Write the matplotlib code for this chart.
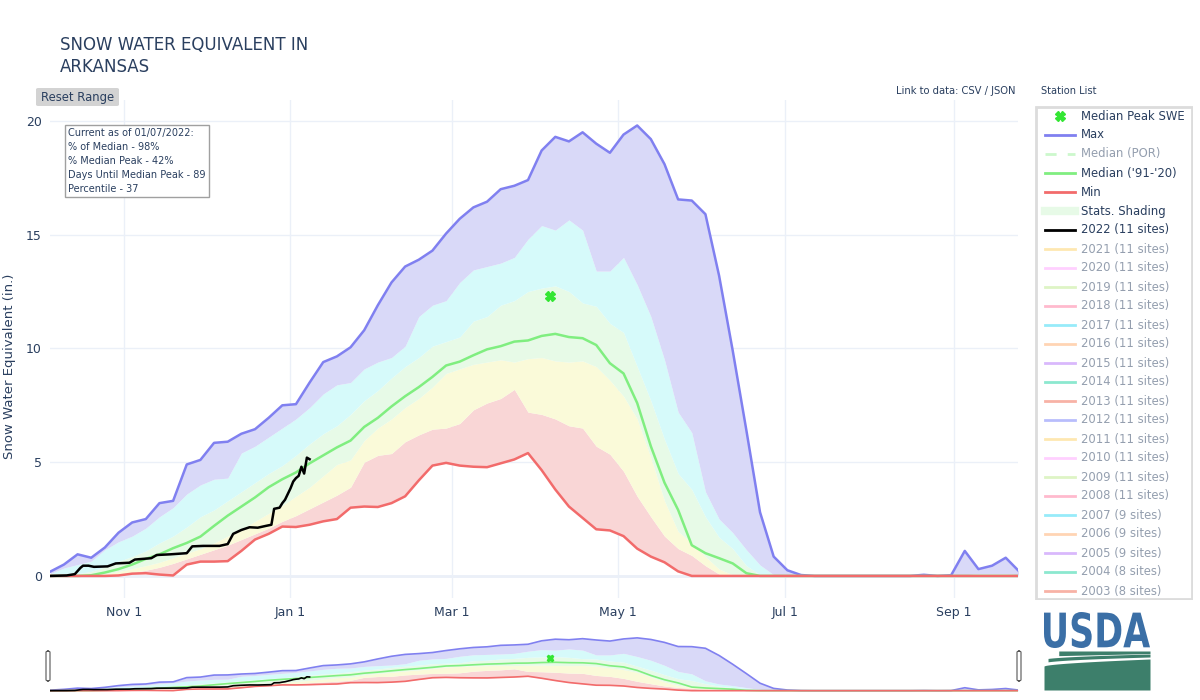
import numpy as np
import matplotlib
matplotlib.use("Agg")
import matplotlib.pyplot as plt
from matplotlib.patches import Rectangle, FancyBboxPatch, PathPatch
from matplotlib.textpath import TextPath
from matplotlib.font_manager import FontProperties
from matplotlib.transforms import Affine2D

plt.rcParams['font.family'] = ['DejaVu Sans']

# day of water year (0 = Oct 1), sampled every 5 days
days = list(range(4, 360, 5))

max_swe = [0.19, 0.5, 0.95, 0.8, 1.25, 1.9, 2.35, 2.5, 3.2, 3.3,
           4.9, 5.1, 5.85, 5.9, 6.25, 6.45, 6.95, 7.5, 7.55, 8.5,
           9.4, 9.65, 10.05, 10.8, 11.9, 12.9, 13.6, 13.9, 14.3, 15.05,
           15.7, 16.2, 16.45, 17.0, 17.15, 17.4, 18.7, 19.3, 19.1, 19.5,
           19.0, 18.6, 19.4, 19.8, 19.2, 18.1, 16.55, 16.5, 15.9, 13.2,
           9.9, 6.4, 2.8, 0.85, 0.25, 0.04, 0, 0, 0, 0,
           0, 0, 0, 0, 0.05, 0, 0.03, 1.1, 0.3, 0.45,
           0.8, 0.19]
p90 = [0.1, 0.35, 0.5, 0.65, 1.15, 1.5, 1.75, 2.1, 2.6, 3.0,
       3.6, 4.0, 4.25, 4.3, 5.4, 5.7, 6.1, 6.5, 6.9, 7.4,
       8.0, 8.4, 8.5, 9.1, 9.4, 9.6, 10.1, 11.4, 11.9, 12.1,
       12.9, 13.45, 13.6, 13.75, 14.0, 14.8, 15.4, 15.2, 15.65, 15.2,
       13.4, 13.4, 14.0, 12.8, 11.4, 9.5, 7.2, 6.3, 3.7, 2.5,
       1.9, 1.15, 0.48, 0.05, 0, 0, 0, 0, 0, 0,
       0, 0, 0, 0, 0, 0, 0, 0.05, 0.1, 0.1,
       0.1, 0.05]
p70 = [0.02, 0.05, 0.1, 0.2, 0.4, 0.65, 0.85, 1.1, 1.45, 1.75,
       2.15, 2.6, 2.9, 3.3, 3.7, 4.1, 4.5, 4.85, 5.3, 5.8,
       6.25, 6.6, 7.1, 7.7, 8.15, 8.7, 9.2, 9.6, 10.1, 10.3,
       10.5, 11.2, 11.4, 11.9, 12.1, 12.5, 12.65, 12.75, 12.5, 12.0,
       11.85, 11.1, 10.7, 9.2, 7.7, 6.0, 4.5, 3.8, 2.6, 1.7,
       1.2, 0.45, 0.05, 0, 0, 0, 0, 0, 0, 0,
       0, 0, 0, 0, 0, 0, 0, 0, 0, 0,
       0, 0]
p50 = [0, 0, 0, 0.02, 0.08, 0.2, 0.32, 0.45, 0.6, 0.8,
       1.0, 1.2, 1.45, 1.75, 2.05, 2.4, 2.75, 3.1, 3.5, 3.9,
       4.4, 4.9, 5.1, 5.95, 6.5, 6.9, 7.4, 7.8, 8.3, 8.9,
       9.1, 9.3, 9.4, 9.5, 9.4, 9.55, 9.6, 9.45, 9.4, 9.45,
       9.2, 8.6, 7.9, 6.9, 5.2, 3.3, 1.95, 1.45, 0.85, 0.3,
       0.05, 0, 0, 0, 0, 0, 0, 0, 0, 0,
       0, 0, 0, 0, 0, 0, 0, 0, 0, 0,
       0, 0]
p30 = [0, 0, 0, 0, 0.03, 0.08, 0.15, 0.25, 0.38, 0.55,
       0.75, 0.95, 1.15, 1.35, 1.6, 1.85, 2.1, 2.4, 2.65, 2.95,
       3.25, 3.55, 3.9, 5.0, 5.3, 5.38, 5.9, 6.2, 6.45, 6.5,
       6.7, 7.3, 7.6, 7.8, 8.2, 7.2, 7.1, 6.9, 6.6, 6.5,
       5.7, 5.35, 4.6, 3.5, 2.6, 1.75, 1.2, 0.9, 0.45, 0.08,
       0, 0, 0, 0, 0, 0, 0, 0, 0, 0,
       0, 0, 0, 0, 0, 0, 0, 0, 0, 0,
       0, 0]
median_swe = [0, 0, 0, 0.03, 0.15, 0.3, 0.5, 0.75, 0.95, 1.22,
              1.45, 1.73, 2.2, 2.65, 3.05, 3.45, 3.9, 4.25, 4.55, 4.95,
              5.3, 5.65, 5.95, 6.55, 6.95, 7.45, 7.9, 8.3, 8.75, 9.25,
              9.42, 9.7, 9.96, 10.1, 10.3, 10.35, 10.55, 10.64, 10.5, 10.45,
              10.15, 9.35, 8.9, 7.6, 5.7, 4.1, 2.9, 1.35, 1.0, 0.78,
              0.55, 0.12, 0, 0, 0, 0, 0, 0, 0, 0,
              0, 0, 0, 0, 0, 0, 0, 0, 0, 0,
              0, 0]
min_swe = [0, 0, 0, 0, 0, 0.02, 0.1, 0.12, 0.06, 0.02,
           0.5, 0.63, 0.63, 0.65, 1.1, 1.6, 1.85, 2.17, 2.15, 2.25,
           2.4, 2.5, 3.0, 3.05, 3.03, 3.2, 3.5, 4.2, 4.85, 4.97,
           4.85, 4.8, 4.78, 4.95, 5.12, 5.4, 4.65, 3.8, 3.05, 2.55,
           2.05, 2.0, 1.75, 1.2, 0.85, 0.6, 0.2, 0, 0, 0,
           0, 0, 0, 0, 0, 0, 0, 0, 0, 0,
           0, 0, 0, 0, 0, 0, 0, 0, 0, 0,
           0, 0]

days_2022 = [4, 10, 13, 15, 16, 18, 20, 25, 28, 33, 35, 38, 41, 43, 48, 54, 56, 60, 66,
             69, 71, 74, 77, 80, 83, 85, 86, 88, 89, 90, 91, 92, 93, 94, 95, 96, 97, 98, 99]
swe_2022 = [0, 0.02, 0.08, 0.35, 0.45, 0.45, 0.4, 0.42, 0.55, 0.58, 0.72, 0.75, 0.78, 0.92,
            0.95, 1.0, 1.3, 1.32, 1.32, 1.4, 1.85, 2.02, 2.14, 2.12, 2.2, 2.25, 2.95, 3.0,
            3.2, 3.35, 3.6, 3.85, 4.15, 4.3, 4.4, 4.8, 4.5, 5.2, 5.13]

peak_day = 187
peak_swe = 12.3

tick_days = [31, 92, 151, 212, 273, 335]
tick_labels = ['Nov 1', 'Jan 1', 'Mar 1', 'May 1', 'Jul 1', 'Sep 1']

legend_labels = ['Median Peak SWE', 'Max', 'Median (POR)', "Median ('91-'20)", 'Min',
                 'Stats. Shading', '2022 (11 sites)']
years = ['2021', '2020', '2019', '2018', '2017', '2016', '2015', '2014', '2013', '2012',
         '2011', '2010', '2009', '2008', '2007', '2006', '2005', '2004', '2003']
year_sites = [11] * 14 + [9, 9, 9, 8, 8]

TXT = '#2a3f5f'
C_MAX = '#8080f0'
C_MED = '#80ee80'
C_MIN = '#f26b6b'
band_colors = ['#f9d6d6', '#fafad9', '#e7fae7', '#d6fafa', '#d9d9f8']
palette = ['#FECB52', '#FF97FF', '#B6E880', '#FF6692', '#19d3f3',
           '#FFA15A', '#ab63fa', '#00cc96', '#EF553B', '#636efa']

W, H = 1200, 700
fig = plt.figure(figsize=(12, 7), dpi=100)


def fx(px):
    return px / W


def fy(py):
    return 1 - py / H


def draw_chart(ax, lw):
    layers = [min_swe, p30, p50, p70, p90, max_swe]
    for lo, hi, c in zip(layers[:-1], layers[1:], band_colors):
        ax.fill_between(days, lo, hi, color=c, lw=0, zorder=1)
    ax.plot(days, max_swe, color=C_MAX, lw=lw, zorder=3)
    ax.plot(days, median_swe, color=C_MED, lw=lw, zorder=4)
    ax.plot(days, min_swe, color=C_MIN, lw=lw, zorder=5)
    ax.plot(days_2022, swe_2022, color='black', lw=lw, zorder=6)
    ax.plot([peak_day], [peak_swe], marker='X', color='#33e633', ms=7 if lw > 1.5 else 5,
            mec='#33e633', ls='none', zorder=7)


# main plot area
ax = fig.add_axes([fx(50), fy(598), fx(968), 498 / H])
draw_chart(ax, 1.8)
ax.set_xlim(3.9, 358.5)
ax.set_ylim(-0.97, 20.92)
ax.set_xticks(tick_days)
ax.set_xticklabels(tick_labels)
ax.set_yticks([0, 5, 10, 15, 20])
ax.tick_params(length=0, labelsize=9, colors=TXT, pad=6)
ax.grid(True, color='#ebf0f8', lw=1, zorder=0)
ax.axhline(0, color='#ebf0f8', lw=2, zorder=0)
ax.set_axisbelow(True)
for s in ax.spines.values():
    s.set_visible(False)

# range slider
ax2 = fig.add_axes([fx(50), fy(692), fx(968), 56 / H])
draw_chart(ax2, 1.2)
ax2.set_xlim(3.9, 358.5)
ax2.set_ylim(-0.5, 20.5)
ax2.axis('off')
for hx in [46, 1017]:
    fig.patches.append(FancyBboxPatch((fx(hx), fy(681)), fx(4), 30 / H,
                                      boxstyle='round,pad=0,rounding_size=0.002',
                                      transform=fig.transFigure, fc='white',
                                      ec='#555555', lw=0.8))

# title and annotations
fig.text(fx(60), fy(45), 'SNOW WATER EQUIVALENT IN', fontsize=12, color=TXT, va='center')
fig.text(fx(60), fy(67), 'ARKANSAS', fontsize=12, color=TXT, va='center')
fig.text(fx(10), fy(366), 'Snow Water Equivalent (in.)', rotation=90, fontsize=9.5,
         color=TXT, va='center', ha='center')

fig.patches.append(FancyBboxPatch((fx(36), fy(106)), fx(83), 18 / H,
                                  boxstyle='round,pad=0,rounding_size=0.002',
                                  transform=fig.transFigure, fc='#d3d3d3', ec='none'))
fig.text(fx(77.5), fy(97), 'Reset Range', fontsize=8.4, color=TXT, ha='center', va='center')

fig.text(fx(1016), fy(91), 'Link to data: CSV / JSON', fontsize=7.2, color=TXT,
         ha='right', va='center')
fig.text(fx(1041), fy(91), 'Station List', fontsize=7.1, color=TXT, va='center')

info = ('Current as of 01/07/2022:\n% of Median - 98%\n% Median Peak - 42%\n'
        'Days Until Median Peak - 89\nPercentile - 37')
fig.text(fx(68), fy(128), info, fontsize=7, color=TXT, va='top', ha='left',
         linespacing=1.5,
         bbox=dict(boxstyle='square,pad=0.35', fc='white', ec='#a0a0a0', lw=1))

# legend panel
lg = fig.add_axes([fx(1035), fy(600), fx(158), 494 / H])
lg.set_xlim(1035, 1193)
lg.set_ylim(600, 106)
lg.axis('off')
lg.add_patch(Rectangle((1036, 107), 156, 492, fc='white', ec='#dcdcdc', lw=2))

rows = legend_labels + [f'{y} ({n} sites)' for y, n in zip(years, year_sites)]
for i, lab in enumerate(rows):
    yy = 116 + 19 * i
    faded = i == 2 or i >= 7
    if i == 0:
        lg.plot([1060], [yy], marker='X', color='#33e633', ms=7, ls='none')
    elif i == 1:
        lg.plot([1045, 1075], [yy, yy], color=C_MAX, lw=2)
    elif i == 2:
        lg.plot([1045, 1075], [yy, yy], color=C_MED, lw=2, ls=(0, (4, 4)), alpha=0.4)
    elif i == 3:
        lg.plot([1045, 1075], [yy, yy], color=C_MED, lw=2)
    elif i == 4:
        lg.plot([1045, 1075], [yy, yy], color=C_MIN, lw=2)
    elif i == 5:
        lg.plot([1045, 1075], [yy, yy], color='#e7fae7', lw=6)
    elif i == 6:
        lg.plot([1045, 1075], [yy, yy], color='black', lw=2)
    else:
        lg.plot([1045, 1075], [yy, yy], color=palette[(i - 7) % 10], lw=2, alpha=0.45)
    lg.text(1081, yy, lab, fontsize=8.4, color=TXT, alpha=0.5 if faded else 1.0,
            va='center', ha='left')

# USDA logo
lo = fig.add_axes([fx(1044), fy(690), fx(106), 80 / H])
lo.set_xlim(0, 106)
lo.set_ylim(0, 80)
lo.axis('off')
tp = TextPath((0, 0), 'USDA', size=1, prop=FontProperties(family='DejaVu Sans', weight='bold'))
bb = tp.get_extents()
tr = Affine2D().translate(-bb.x0, -bb.y0).scale(106 / bb.width, 36 / bb.height).translate(0, 42)
lo.add_patch(PathPatch(tr.transform_path(tp), fc='#3b6fa6', ec='none'))
xs = np.linspace(0, 106, 80)
green = '#3d7f6b'
lo.fill_between(xs, 0, 24 + 7 * (xs / 106) ** 0.6, color=green, lw=0)
lo.fill_between(xs, 27 + 6 * (xs / 106) ** 0.5, 30.5 + 5.5 * (xs / 106) ** 0.5,
                where=xs > 4, color=green, lw=0)
lo.fill_between(xs, 34 + 2.5 * (xs / 106), 39, where=xs > 14, color=green, lw=0)

fig.savefig('out.png', dpi=100)
